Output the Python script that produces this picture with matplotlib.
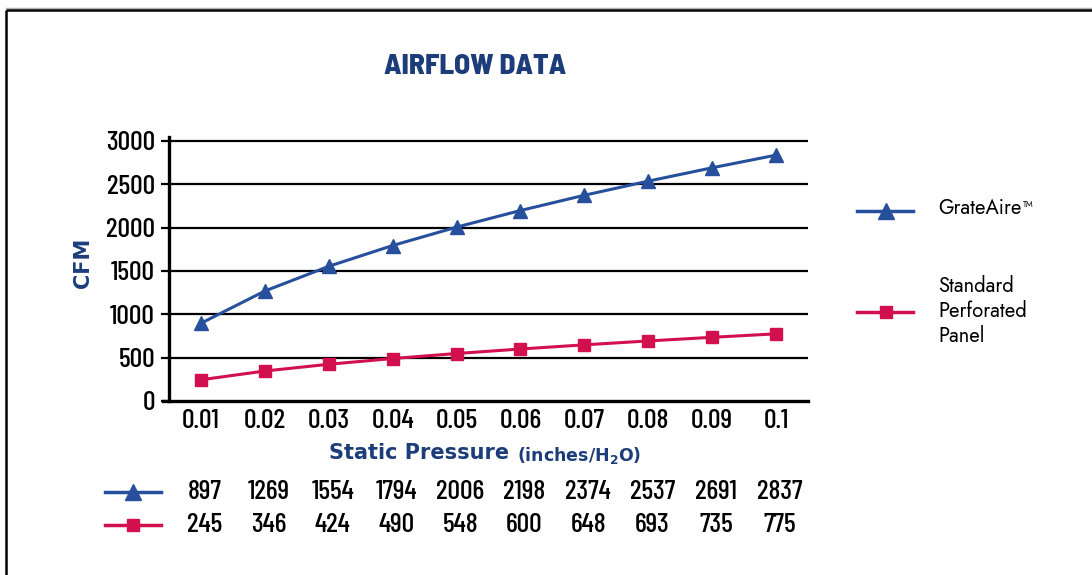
import matplotlib
matplotlib.use("Agg")
import matplotlib.pyplot as plt
from matplotlib.lines import Line2D
from matplotlib import font_manager
import numpy as np

pressure = ["0.01", "0.02", "0.03", "0.04", "0.05", "0.06", "0.07", "0.08", "0.09", "0.1"]
grateaire = [897, 1269, 1554, 1794, 2006, 2198, 2374, 2537, 2691, 2837]
standard = [245, 346, 424, 490, 548, 600, 648, 693, 735, 775]
yticks = [0, 500, 1000, 1500, 2000, 2500, 3000]

BLUE = "#27509c"
RED = "#d2104f"
NAVY = "#1c3d7a"

_avail = {f.name for f in font_manager.fontManager.ttflist}

def pick(*cands):
    out = [c for c in cands if c in _avail]
    return out + ["DejaVu Sans"]

NARROW = pick("Barlow Condensed", "Archivo Narrow", "Asap Condensed")
TITLEF = pick("Barlow Semi Condensed", "Barlow Condensed")
REG = pick("Jost", "Questrial", "Barlow", "Lato")
BOLDF = ["DejaVu Sans"]

W, H = 1092, 575
fig = plt.figure(figsize=(W / 100, H / 100), dpi=100)

def fx(px):
    return px / W

def fy(py):
    return 1 - py / H

# frame border
fig.add_artist(Line2D([fx(6), 1], [fy(8), fy(8)], color="#b0b0b0", lw=1.0))
fig.add_artist(Line2D([fx(6), 1.01], [fy(9.5), fy(9.5)], color="black", lw=1.8, solid_capstyle="butt"))
fig.add_artist(Line2D([fx(6), fx(6)], [fy(9.5), -0.01], color="black", lw=1.8, solid_capstyle="butt"))

ax = fig.add_axes([fx(169), fy(401), fx(808) - fx(169), (401 - 137) / H])
x = np.arange(len(pressure))
ax.set_xlim(-0.5, len(pressure) - 0.5)
ax.set_ylim(0, 3000 * 264 / 260)

for v in yticks[1:]:
    ax.axhline(v, color="black", lw=1.6, zorder=1)

ax.plot(x, grateaire, color=BLUE, lw=2.2, marker="^", markersize=10, zorder=3)
ax.plot(x, standard, color=RED, lw=2.2, marker="s", markersize=8, zorder=3)

for s in ["top", "right"]:
    ax.spines[s].set_visible(False)
ax.spines["left"].set_linewidth(2.4)
ax.spines["bottom"].set_linewidth(2.4)
ax.spines["bottom"].set_bounds(-0.5 - 6 / 63.9, len(pressure) - 0.5)

ax.set_yticks(yticks)
ax.set_yticklabels([str(v) for v in yticks], fontfamily=NARROW, fontweight=500, fontsize=20)
ax.tick_params(axis="y", length=6, width=1.6, pad=4, colors="black")
ax.set_xticks(x)
ax.set_xticklabels(pressure, fontfamily=NARROW, fontweight=500, fontsize=20)
ax.tick_params(axis="x", length=0, pad=6)

# title
fig.text(fx(475), fy(67), "AIRFLOW DATA", ha="center", va="center",
         fontfamily=TITLEF, fontweight=800, fontsize=21, color=NAVY)

# y label
fig.text(fx(83), fy(263), "CFM", ha="center", va="center", rotation=90,
         fontfamily=BOLDF, fontweight="bold", fontsize=15, color=NAVY)

# x label
sp = fig.text(fx(329), fy(453), "Static Pressure", ha="left", va="center",
              fontfamily=BOLDF, fontweight="bold", fontsize=15, color=NAVY)
fig.canvas.draw()
bb = sp.get_window_extent()
fig.text(fx(bb.x1 + 8), fy(455), r"(inches/H$\mathregular{_2}$O)", ha="left", va="center",
         fontfamily=BOLDF, fontweight="bold", fontsize=12.5, color=NAVY)

# legend at right
fig.add_artist(Line2D([fx(857), fx(913)], [fy(211), fy(211)], color=BLUE, lw=2.5))
fig.add_artist(Line2D([fx(886)], [fy(211)], color=BLUE, marker="^", markersize=11, lw=0))
ga = fig.text(fx(938), fy(208), "GrateAire", ha="left", va="center", fontfamily=REG, fontsize=14.5)
fig.canvas.draw()
bb = ga.get_window_extent()
fig.text(fx(bb.x1 + 2), fy(205), "TM", ha="left", va="center", fontfamily=REG, fontsize=6)
fig.add_artist(Line2D([fx(857), fx(913)], [fy(312), fy(312)], color=RED, lw=2.5))
fig.add_artist(Line2D([fx(886)], [fy(312)], color=RED, marker="s", markersize=9, lw=0))
fig.text(fx(938), fy(311), "Standard\nPerforated\nPanel", ha="left", va="center",
         fontfamily=REG, fontsize=14.5, linespacing=1.2)

# data table
for row_y, vals, col, mk, ms in [(492, grateaire, BLUE, "^", 11), (525, standard, RED, "s", 9)]:
    fig.add_artist(Line2D([fx(105), fx(161)], [fy(row_y), fy(row_y)], color=col, lw=2.5))
    fig.add_artist(Line2D([fx(133)], [fy(row_y)], color=col, marker=mk, markersize=ms, lw=0))
    for i, v in enumerate(vals):
        xd = ax.transData.transform((i, 0))[0]
        fig.text(fx(xd + 4), fy(row_y), str(v), ha="center", va="center",
                 fontfamily=NARROW, fontweight=500, fontsize=20)

fig.savefig("out.png", dpi=100)
